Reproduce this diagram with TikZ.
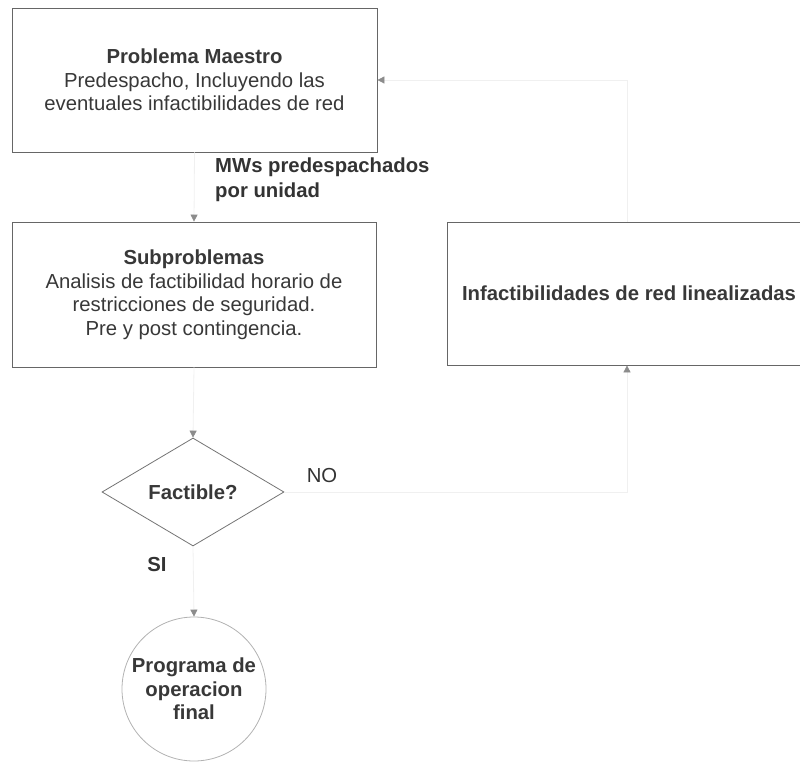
\documentclass[tikz,border=0pt]{standalone}
\usepackage{fontspec}
\setmainfont{Liberation Sans}
\usetikzlibrary{shapes.geometric,arrows.meta}

\begin{document}
\begin{tikzpicture}[x=1pt,y=-1pt,
  txt/.style={font=\fontsize{20.3}{23.5}\selectfont, text=black!78},
  procbox/.style={txt, draw=black!60, line width=0.8pt, align=center, inner sep=0pt},
  decision/.style={txt, draw=black!55, line width=0.8pt, shape=diamond, inner sep=0pt,
                   minimum width=182pt, minimum height=108pt},
  terminal/.style={txt, draw=black!30, line width=0.8pt, shape=circle, inner sep=0pt,
                   minimum size=144pt, align=center},
  flow/.style={draw=black!6, line width=0.8pt,
               -{Triangle[width=7pt,length=7pt,color=black!45,fill=black!45]}},
  lbl/.style={txt, text=black!80, inner sep=0pt}
]
\useasboundingbox (0,0) rectangle (800,762);

% process boxes
\node[procbox, minimum width=365pt, minimum height=144pt] (master) at (194.5,80)
  {\textbf{Problema Maestro}\\Predespacho, Incluyendo las\\eventuales infactibilidades de red};
\node[procbox, minimum width=364pt, minimum height=145pt] (sub) at (194,294.5)
  {\textbf{Subproblemas}\\Analisis de factibilidad horario de\\restricciones de seguridad.\\Pre y post contingencia.};
\node[procbox, minimum width=364pt, minimum height=143pt] (infeas) at (629,293.5)
  {\textbf{Infactibilidades de red linealizadas}};

% decision and final program
\node[decision] (feas) at (193,492) {\textbf{Factible?}};
\node[terminal] (final) at (194,689) {\textbf{Programa de}\\\textbf{operacion}\\\textbf{final}};

% corner points of the feedback path
\coordinate (noturn) at (627,492);
\coordinate (upturn) at (627,80);

% connectors
\draw[flow] (master.south) -- (sub.north);
\draw[flow] (sub.south) -- (feas.north);
\draw[flow] (feas.east) -- (noturn) -- (infeas.south -| noturn);
\draw[flow] (infeas.north -| upturn) -- (upturn) -- (master.east);
\draw[flow] (feas.south) -- (final.north);

% labels
\node[lbl, anchor=north west, align=left, font=\bfseries\fontsize{20.3}{25}\selectfont] (mwlbl) at (215,158)
  {MWs predespachados\\por unidad};
\node[lbl] (nolbl) at (322,476) {NO};
\node[lbl, font=\bfseries\fontsize{20.3}{23.5}\selectfont] (silbl) at (157,565) {SI};
\end{tikzpicture}
\end{document}
